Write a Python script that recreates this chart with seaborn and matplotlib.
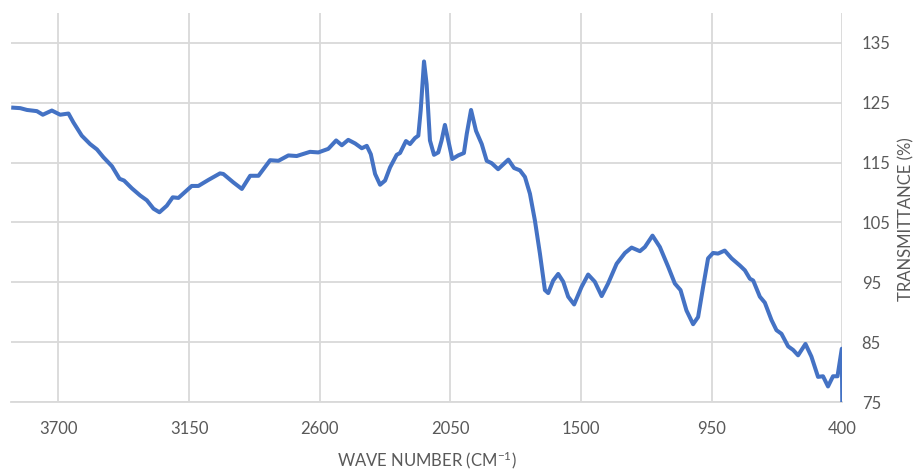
import matplotlib
matplotlib.use("Agg")
import matplotlib.pyplot as plt
import seaborn as sns
import pandas as pd

# FTIR spectrum: wave number (cm-1) and transmittance (%)
wave_number = [3899, 3861, 3833, 3791, 3766, 3728, 3693, 3658, 3637, 3602,
               3567, 3538, 3511, 3475, 3443, 3424, 3391, 3356, 3328, 3300,
               3275, 3244, 3219, 3195, 3167, 3139, 3111, 3069, 3020, 3006,
               2964, 2928, 2893, 2858, 2809, 2774, 2732, 2697, 2641, 2606,
               2564, 2531, 2507, 2480, 2451, 2423, 2402, 2385, 2367, 2346,
               2325, 2304, 2276, 2262, 2237, 2220, 2199, 2185, 2175, 2161,
               2150, 2136, 2119, 2101, 2087, 2073, 2059, 2042, 2017, 1993,
               1981, 1963, 1942, 1918, 1897, 1876, 1849, 1806, 1782, 1757,
               1736, 1715, 1694, 1673, 1652, 1638, 1617, 1596, 1575, 1554,
               1529, 1498, 1470, 1442, 1413, 1386, 1350, 1315, 1287, 1252,
               1231, 1199, 1168, 1133, 1105, 1081, 1056, 1028, 1007, 986,
               965, 944, 923, 895, 866, 831, 810, 789, 775, 747,
               726, 698, 677, 656, 628, 607, 586, 555, 530, 502,
               481, 460, 439, 420, 402, 400]

transmittance = [124.2, 124.1, 123.8, 123.6, 123.0, 123.7, 123.0, 123.2, 121.7, 119.5,
                 118.1, 117.2, 115.9, 114.4, 112.3, 112.0, 110.7, 109.5, 108.7, 107.3,
                 106.7, 107.8, 109.2, 109.1, 110.1, 111.1, 111.1, 112.1, 113.2, 113.1,
                 111.7, 110.6, 112.8, 112.8, 115.4, 115.3, 116.2, 116.1, 116.8, 116.7,
                 117.3, 118.7, 117.9, 118.8, 118.2, 117.4, 117.8, 116.4, 113.1, 111.3,
                 112.0, 114.2, 116.3, 116.6, 118.6, 118.1, 119.1, 119.5, 123.7, 131.9,
                 128.1, 118.7, 116.3, 116.7, 118.7, 121.3, 118.7, 115.6, 116.2, 116.6,
                 119.8, 123.8, 120.3, 118.1, 115.3, 114.9, 113.9, 115.5, 114.1, 113.7,
                 112.6, 109.8, 105.3, 99.8, 93.7, 93.2, 95.3, 96.4, 95.1, 92.6,
                 91.3, 94.2, 96.3, 95.1, 92.7, 94.8, 98.1, 99.9, 100.8, 100.2,
                 100.9, 102.8, 100.9, 97.6, 94.8, 93.7, 90.3, 88.0, 89.2, 94.2,
                 99.0, 99.9, 99.8, 100.3, 99.0, 97.8, 97.0, 95.6, 95.3, 92.6,
                 91.6, 88.7, 87.0, 86.4, 84.3, 83.7, 82.8, 84.7, 82.6, 79.2,
                 79.3, 77.6, 79.3, 79.3, 83.9, 75.0]

x_ticks = [3700, 3150, 2600, 2050, 1500, 950, 400]
y_ticks = [75, 85, 95, 105, 115, 125, 135]

sns.set_theme(style="whitegrid")
plt.rcParams["font.family"] = ["Lato", "DejaVu Sans"]
plt.rcParams["mathtext.default"] = "regular"

df = pd.DataFrame({"wn": wave_number, "t": transmittance})

fig = plt.figure(figsize=(9.16, 4.72), dpi=100)
ax = fig.add_axes([0.012, 0.1483, 0.9075, 0.8242])

sns.lineplot(data=df, x="wn", y="t", sort=False, estimator=None,
             color="#4472C4", linewidth=2.9, ax=ax,
             solid_joinstyle="round", solid_capstyle="butt", zorder=3)

ax.set_xlim(3900, 400)
ax.set_ylim(75, 140)
ax.set_xticks(x_ticks)
ax.set_yticks(y_ticks)

grid_color = "#D9D9D9"
ax.grid(True, color=grid_color, linewidth=1.3)
for side in ("top", "left", "right"):
    ax.spines[side].set_visible(False)
ax.spines["bottom"].set_color(grid_color)
ax.spines["bottom"].set_linewidth(1.3)

ax.yaxis.tick_right()
ax.yaxis.set_label_position("right")
ax.tick_params(axis="both", length=0, labelsize=12, colors="#595959")
ax.tick_params(axis="y", pad=14)
ax.tick_params(axis="x", pad=14)

ax.set_xlabel("WAVE NUMBER (CM$^{-1}$)", fontsize=12, color="#595959",
              va="center", ha="center")
ax.set_ylabel("TRANSMITTANCE (%)", fontsize=12, color="#595959",
              rotation=90, va="center", ha="center", rotation_mode="default")
ax.xaxis.set_label_coords(0.5, -0.149)
ax.yaxis.set_label_coords(1.0766, 0.47)

fig.savefig("out.png", dpi=100, facecolor="white")
